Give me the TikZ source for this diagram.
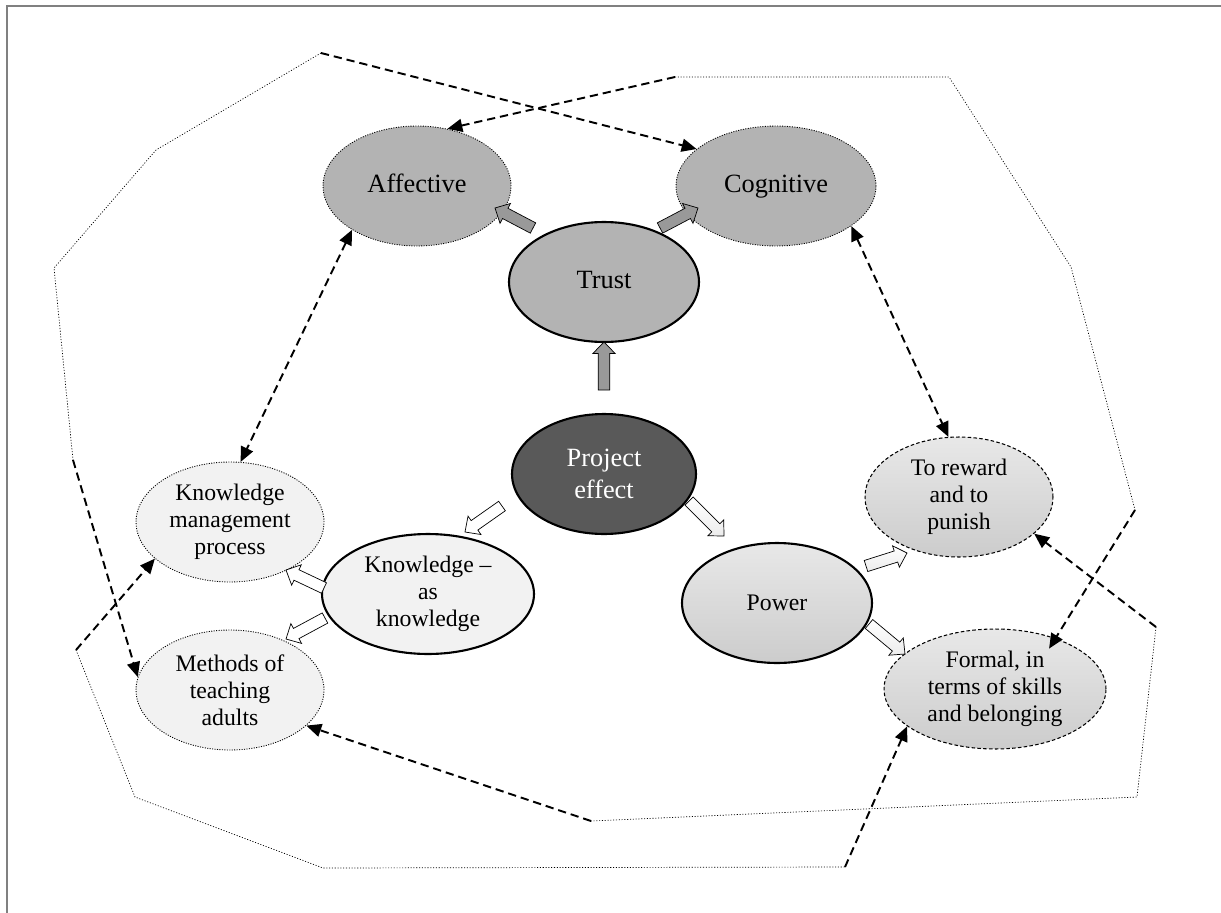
\documentclass[tikz,border=0pt]{standalone}
\usepackage{fontspec}
\setmainfont{Liberation Serif}
\usetikzlibrary{arrows.meta,calc,shapes.geometric}

\definecolor{ovalgray}{HTML}{B3B3B3}
\definecolor{blkgray}{HTML}{999999}
\definecolor{darkoval}{HTML}{595959}
\definecolor{paleoval}{HTML}{F2F2F2}

\newcommand{\bigtext}{\fontsize{15}{18}\selectfont}
\newcommand{\smalltext}{\fontsize{13.5}{15.5}\selectfont}

% broad outlined arrow from #2 to #3
\newcommand{\blockarrow}[3]{%
  \draw[#1] let \p1=#2, \p2=#3,
      \n1={atan2(\y2-\y1,\x2-\x1)}, \n2={veclen(\x2-\x1,\y2-\y1)},
      \n3={\n2-6.6pt}, \n4={\n1+90}, \n5={\n1-90}, \n6={\n1+180} in
    (\p1) ++(\n4:3.3pt) -- ++(\n1:\n3) -- ++(\n4:3.1pt) -- (\p2)
    -- ($(\p2)+(\n6:6.6pt)+(\n5:6.4pt)$) -- ++(\n4:3.1pt) -- ++(\n6:\n3) -- cycle;
}

\tikzset{
  oval/.style={ellipse, inner sep=0pt, align=center, minimum height=2.4cm},
  trustnode/.style={oval, draw, line width=1.2pt, fill=ovalgray, font=\bigtext, text height=2.05ex, text depth=.5ex},
  trustfacet/.style={oval, draw, line width=0.5pt, dash pattern=on 0.6pt off 0.8pt, fill=ovalgray, font=\bigtext, text height=2.05ex, text depth=.5ex},
  knownode/.style={oval, draw, line width=1.2pt, fill=paleoval, font=\smalltext},
  knowfacet/.style={oval, draw, line width=0.5pt, dash pattern=on 0.6pt off 0.8pt, fill=paleoval, font=\smalltext},
  powernode/.style={oval, draw, line width=1.2pt, top color=gray!18, bottom color=gray!40, font=\smalltext},
  powerfacet/.style={oval, draw, line width=0.6pt, dash pattern=on 2pt off 1.3pt, top color=gray!18, bottom color=gray!40, font=\smalltext},
  dasharr/.style={line width=1.1pt, dash pattern=on 4.7pt off 2.8pt, -{Triangle[length=8.5pt,width=7.4pt]}},
  dashboth/.style={dasharr, {Triangle[length=8.5pt,width=7.4pt]}-{Triangle[length=8.5pt,width=7.4pt]}},
  dotline/.style={line width=0.4pt, dash pattern=on 0.6pt off 1pt},
  darkblk/.style={line width=0.4pt, fill=blkgray},
  whiteblk/.style={line width=0.4pt, fill=white},
  shadeblk/.style={line width=0.4pt, top color=white, bottom color=gray!15}
}

\begin{document}
\begin{tikzpicture}[x=0.02cm, y=-0.02cm]
  \useasboundingbox (0,0) rectangle (1221,913);
  \draw[gray, line width=1.1pt] (7,913) -- (7,6) -- (1221,6);

  % nodes
  \node[trustfacet, minimum width=3.76cm] (affective) at (417,186) {Affective};
  \node[trustfacet, minimum width=4.0cm] (cognitive) at (776,186) {Cognitive};
  \node[trustnode, minimum width=3.8cm] (trust) at (604,282) {Trust};
  \node[oval, draw, line width=1.2pt, fill=darkoval, text=white, font=\bigtext, minimum width=3.68cm] (project) at (604,474) {Project\\effect};
  \node[knownode, minimum width=4.24cm] (knowl) at (428,594) {Knowledge --\\as\\knowledge};
  \node[knowfacet, minimum width=3.76cm] (kmp) at (230,522) {Knowledge\\management\\process};
  \node[knowfacet, minimum width=3.76cm] (methods) at (230,690) {Methods of\\teaching\\adults};
  \node[powernode, minimum width=3.8cm] (power) at (777,603) {Power};
  \node[powerfacet, minimum width=3.76cm] (reward) at (959,497) {To reward\\and to\\punish};
  \node[powerfacet, minimum width=4.44cm] (formal) at (995,689) {Formal, in\\terms of skills\\and belonging};

  % broad arrows
  \blockarrow{darkblk}{($(project.center)+(0,-84)$)}{($(trust.center)+(0,60)$)}
  \blockarrow{darkblk}{($(trust.center)+(-71,-54)$)}{($(affective.center)+(78,22)$)}
  \blockarrow{darkblk}{($(trust.center)+(56,-54)$)}{($(cognitive.center)+(-78,22)$)}
  \blockarrow{whiteblk}{($(project.center)+(-102,32)$)}{($(knowl.center)+(37,-62)$)}
  \blockarrow{shadeblk}{($(project.center)+(85,27)$)}{($(power.center)+(-53,-67)$)}
  \blockarrow{whiteblk}{($(knowl.center)+(-104,-6)$)}{($(kmp.center)+(56,48)$)}
  \blockarrow{whiteblk}{($(knowl.center)+(-103,24)$)}{($(methods.center)+(56,-51)$)}
  \blockarrow{shadeblk}{($(power.center)+(89,-37)$)}{($(reward.center)+(-52,56)$)}
  \blockarrow{shadeblk}{($(power.center)+(92,21)$)}{($(formal.center)+(-90,-35)$)}

  % outer links
  \coordinate (a1) at (321,53);
  \coordinate (a2) at (73,460);
  \coordinate (b1) at (675,77);
  \coordinate (b2) at (1135,510);
  \coordinate (c1) at (1156,627);
  \coordinate (c2) at (591,821);
  \coordinate (d1) at (76,650);
  \coordinate (d2) at (845,867);
  \draw[dotline] (a1) -- (156,150) -- (54,268) -- (a2);
  \draw[dotline] (b1) -- (949,77) -- (1071,267) -- (b2);
  \draw[dotline] (c1) -- (1137,797) -- (c2);
  \draw[dotline] (d1) -- (135,797) -- (323,868) -- (d2);

  \draw[dasharr] (a1) -- (cognitive.155);
  \draw[dasharr] (a2) -- (methods.172);
  \draw[dasharr] (b1) -- (affective.62);
  \draw[dasharr, shorten >=-7pt] (b2) -- (formal.40);
  \draw[dasharr] (c1) -- (reward.-26);
  \draw[dasharr] (c2) -- (methods.-25);
  \draw[dasharr] (d1) -- (kmp.206);
  \draw[dasharr] (d2) -- (formal.203);
  \draw[dashboth] (affective.214) -- (kmp.80);
  \draw[dashboth] (cognitive.-28) -- (reward.100);
\end{tikzpicture}
\end{document}
